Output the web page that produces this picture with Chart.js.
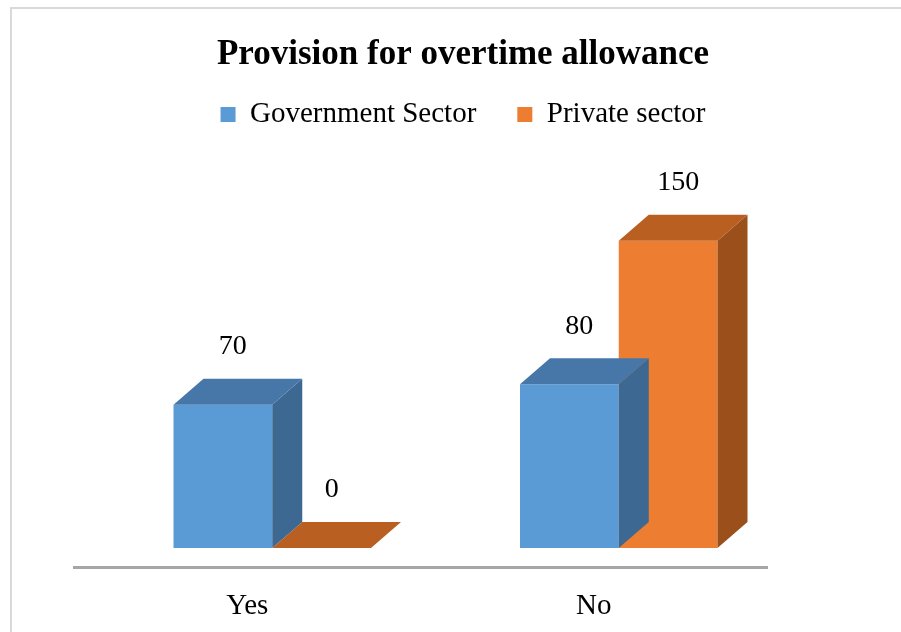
<!DOCTYPE html>
<html>
<head>
<meta charset="utf-8">
<script src="https://cdn.jsdelivr.net/npm/chart.js@4/dist/chart.umd.min.js"></script>
<style>
  html, body { margin: 0; padding: 0; background: #ffffff; }
  canvas { display: block; }
</style>
</head>
<body>
<canvas id="chart" width="901" height="632"></canvas>
<script>
// Survey answers: is overtime allowance provided?
const categories = ['Yes', 'No'];
const seriesNames = ['Government Sector', 'Private sector'];
const governmentValues = [70, 80];
const privateValues = [0, 150];

const SERIF = "'Liberation Serif', 'Times New Roman', serif";
const DEPTH = { dx: 30, dy: -26 };   // receding edge of each block
const FLOOR = { dx: 25, dy: -19 };   // blocks stand this far behind the axis line

const palette = [
  { front: '#5b9bd5', top: '#4677a8', side: '#3d6891' },
  { front: '#ed7d31', top: '#b95f22', side: '#9b501c' }
];

function poly(ctx, pts, color) {
  ctx.beginPath();
  ctx.moveTo(pts[0][0], pts[0][1]);
  for (let i = 1; i < pts.length; i++) ctx.lineTo(pts[i][0], pts[i][1]);
  ctx.closePath();
  ctx.fillStyle = color;
  ctx.fill();
}

// White page with a light frame around the chart
const pageFrame = {
  id: 'pageFrame',
  beforeDraw(chart) {
    const ctx = chart.ctx;
    ctx.save();
    ctx.fillStyle = '#ffffff';
    ctx.fillRect(0, 0, chart.width, chart.height);
    ctx.strokeStyle = '#d9d9d9';
    ctx.lineWidth = 2;
    ctx.strokeRect(11, 8, chart.width + 20, chart.height + 20);
    ctx.restore();
  }
};

// Extrudes each bar into a block: front face from Chart.js, top and side faces here
const blocks = {
  id: 'blocks',
  beforeDatasetDraw(chart) {
    chart.ctx.save();
    chart.ctx.translate(FLOOR.dx, FLOOR.dy);
  },
  afterDatasetDraw(chart, args) {
    const ctx = chart.ctx;
    const colors = palette[args.index];
    args.meta.data.forEach(bar => {
      const { x, y, base, width } = bar.getProps(['x', 'y', 'base', 'width'], true);
      const l = x - width / 2, r = x + width / 2;
      const { dx, dy } = DEPTH;
      if (base - y > 0.5) {
        poly(ctx, [[r, y], [r + dx, y + dy], [r + dx, base + dy], [r, base]], colors.side);
      }
      poly(ctx, [[l, y], [r, y], [r + dx, y + dy], [l + dx, y + dy]], colors.top);
    });
    ctx.restore();
  },
  // Value labels above each block
  afterDatasetsDraw(chart) {
    const ctx = chart.ctx;
    ctx.save();
    ctx.translate(FLOOR.dx, FLOOR.dy);
    ctx.font = '28px ' + SERIF;
    ctx.fillStyle = '#000000';
    ctx.textAlign = 'center';
    ctx.textBaseline = 'middle';
    chart.data.datasets.forEach((ds, di) => {
      chart.getDatasetMeta(di).data.forEach((bar, i) => {
        const { x, y } = bar.getProps(['x', 'y'], true);
        ctx.fillText(String(ds.data[i]), x + 10, y - 58);
      });
    });
    ctx.restore();
  }
};

new Chart(document.getElementById('chart'), {
  type: 'bar',
  data: {
    labels: categories,
    datasets: [
      { label: seriesNames[0], data: governmentValues, backgroundColor: palette[0].front, borderWidth: 0, clip: false },
      { label: seriesNames[1], data: privateValues, backgroundColor: palette[1].front, borderWidth: 0, clip: false }
    ]
  },
  options: {
    responsive: false,
    animation: false,
    events: [],
    layout: { padding: { top: 10, left: 36, right: 11, bottom: 0 } },
    datasets: { bar: { categoryPercentage: 0.57, barPercentage: 1.0 } },
    plugins: {
      title: {
        display: true,
        text: 'Provision for overtime allowance',
        color: '#000000',
        font: { family: SERIF, size: 35, weight: 'bold' },
        padding: { top: 24, bottom: -17 }
      },
      legend: {
        display: true,
        labels: {
          color: '#000000',
          font: { family: SERIF, size: 29 },
          boxWidth: 15,
          boxHeight: 15,
          padding: 41
        }
      },
      tooltip: { enabled: false }
    },
    scales: {
      x: {
        grid: { display: false },
        border: { display: true, color: '#a6a6a6', width: 3 },
        ticks: { color: '#000000', font: { family: SERIF, size: 29 }, padding: 14 },
        afterFit(scale) { scale.height = 65; }
      },
      y: {
        min: 0,
        max: 209,
        grid: { display: false },
        border: { display: false },
        ticks: { display: false },
        afterFit(scale) { scale.width = 38; }
      },
      yRight: {
        type: 'linear',
        position: 'right',
        grid: { display: false },
        border: { display: false },
        ticks: { display: false },
        afterFit(scale) { scale.width = 123; }
      }
    }
  },
  plugins: [pageFrame, blocks]
});
</script>
</body>
</html>
